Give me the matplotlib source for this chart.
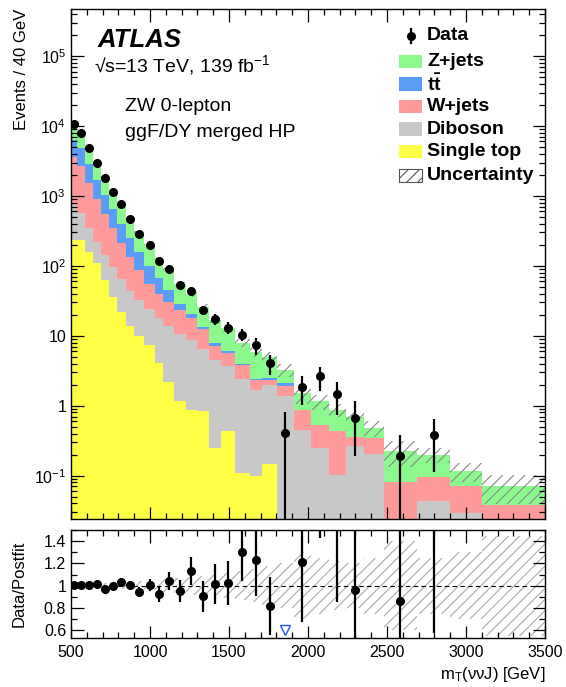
import numpy as np
import matplotlib
matplotlib.use('Agg')
import matplotlib.pyplot as plt
from matplotlib.patches import Rectangle
from matplotlib.lines import Line2D
from matplotlib.ticker import LogLocator, MultipleLocator, FuncFormatter, NullFormatter

plt.rcParams['font.family'] = ['Liberation Sans', 'DejaVu Sans']
plt.rcParams['mathtext.fontset'] = 'custom'
plt.rcParams['mathtext.rm'] = 'Liberation Sans'
plt.rcParams['mathtext.it'] = 'Liberation Sans:italic'
plt.rcParams['mathtext.bf'] = 'Liberation Sans:bold'
plt.rcParams['hatch.linewidth'] = 0.8

# ---------------- data ----------------
bin_edges = [500, 540, 590, 640, 690, 740, 790, 845, 900, 965, 1030, 1085, 1155, 1225,
             1300, 1375, 1450, 1535, 1630, 1710, 1805, 1910, 2020, 2130, 2240, 2355,
             2480, 2690, 2900, 3100, 3500]

data = [10570, 7870, 4900, 2990, 1825, 1152, 761, 464, 284, 199.5, 119, 91.5, 53, 44,
        23.5, 17.3, 13.1, 10.4, 7.27, 4.07, 0.41, 1.85, 2.62, 1.48, 0.674, np.nan,
        0.193, 0.385, np.nan, np.nan]

single_top = [235, 235, 160, 109, 63, 36, 22, 13.6, 9.8, 7.4, 4.1, 2.2, 1.15, 0.88,
              0.85, 0.25, 0.43, 0.11, 0.10, 0.147, 0, 0, 0, 0, 0, 0, 0, 0, 0, 0]

diboson = [515, 330, 192, 113, 81, 59, 42.5, 29.4, 22.2, 16.6, 13.9, 11.8, 9.55, 7.7,
           5.65, 4.25, 3.27, 2.29, 1.6, 1.85, 1.36, 0.454, 0.25, 0.103, 0.268, 0.207,
           0, 0.044, 0.029, 0]

wjets = [2790, 2085, 1198, 688, 416, 250, 145.5, 90, 54, 31, 21.3, 16.7, 12.8, 9.1,
         6.1, 2.7, 1.9, 1.45, 0.65, 0.35, 0.53, 0.41, 0.285, 0.327, 0.089, 0.138,
         0.08, 0.052, 0.043, 0.0376]

ttbar = [2860, 2140, 1330, 790, 473, 297, 185, 114, 70, 46, 27.7, 14.7, 5.2, 2.6,
         0.8, 0.7, 0.4, 0.15, 0.08, 0.15, 0.22, 0, 0, 0, 0, 0, 0, 0, 0, 0]

zjets = [4100, 3030, 1990, 1246, 848, 517, 340, 214, 144, 97, 62, 42.6, 26.8, 18.7,
         12.6, 9.1, 6.8, 4.0, 3.47, 2.5, 1.16, 0.66, 0.615, 0.447, 0.343, 0.135,
         0.143, 0.104, 0.043, 0.034]

rel_unc = [0.02, 0.02, 0.02, 0.02, 0.025, 0.025, 0.03, 0.03, 0.04, 0.04, 0.05, 0.06,
           0.07, 0.08, 0.09, 0.10, 0.11, 0.13, 0.15, 0.18, 0.20, 0.30, 0.25, 0.22,
           0.20, 0.25, 0.40, 0.25, 0.30, 0.45]

sample_names = ['Z+jets', r'$\mathbf{t\bar{t}}$', 'W+jets', 'Diboson', 'Single top']
sample_colors = ['#8cf98f', '#5a9cf8', '#ff9a9a', '#c8c8c8', '#ffff46']

x_ticks = [500, 1000, 1500, 2000, 2500, 3000, 3500]
ratio_ticks = [0.6, 0.8, 1.0, 1.2, 1.4]

# ---------------- derived ----------------
edges = np.array(bin_edges, dtype=float)
widths = np.diff(edges)
centers = 0.5 * (edges[:-1] + edges[1:])
d = np.array(data, dtype=float)
st = np.array(single_top); vv = np.array(diboson); wj = np.array(wjets)
tt = np.array(ttbar); zj = np.array(zjets)
c0 = st
c1 = c0 + vv
c2 = c1 + wj
c3 = c2 + tt
c4 = c3 + zj
total = c4
u = np.array(rel_unc)
# Poisson stat. error of the data, normalised to 40 GeV
scale = widths / 40.0
derr = np.sqrt(d / scale)

FLOOR = 1e-4

W, H = 566, 687
fig = plt.figure(figsize=(W / 100, H / 100), dpi=100)
L, R = 71, 545
ax = fig.add_axes([L / W, 1 - 519 / H, (R - L) / W, (519 - 9) / H])
axr = fig.add_axes([L / W, 1 - 638 / H, (R - L) / W, (638 - 530) / H], sharex=ax)

# stack
layers = [(c4, c3, sample_colors[0]), (c3, c2, sample_colors[1]), (c2, c1, sample_colors[2]),
          (c1, c0, sample_colors[3]), (c0, np.zeros_like(c0), sample_colors[4])]
for top, base, col in layers:
    ax.stairs(np.maximum(top, FLOOR), edges, baseline=np.maximum(base, FLOOR),
              fill=True, color=col, linewidth=0)

# uncertainty band
ax.stairs(total * (1 + u), edges, baseline=np.maximum(total * (1 - u), FLOOR), fill=True,
          facecolor='none', edgecolor='#888888', hatch='///', linewidth=0)

# data
ok = ~np.isnan(d)
lo = np.minimum(derr, d - FLOOR)
ax.errorbar(centers[ok], d[ok], yerr=[lo[ok], derr[ok]], fmt='o', color='black',
            ms=5.5, elinewidth=1.6, capsize=0)

ax.set_yscale('log')
ax.set_xlim(edges[0], edges[-1])
ax.set_ylim(0.024, 4.7e5)


def log_fmt(v, pos):
    e = int(round(np.log10(v)))
    if e == 0:
        return '1'
    if e == 1:
        return '10'
    return r'$\mathregular{10^{%d}}$' % e


ax.yaxis.set_major_locator(LogLocator(base=10, numticks=20))
ax.yaxis.set_minor_locator(LogLocator(base=10, subs=np.arange(2, 10), numticks=50))
ax.yaxis.set_major_formatter(FuncFormatter(log_fmt))
ax.yaxis.set_minor_formatter(NullFormatter())
ax.xaxis.set_major_locator(plt.FixedLocator(x_ticks))
ax.xaxis.set_minor_locator(MultipleLocator(100))
ax.tick_params(axis='x', labelbottom=False)
for a in (ax, axr):
    a.tick_params(which='both', direction='in', top=True, right=True, labelsize=11.5)
    a.tick_params(which='major', length=9, width=0.9)
    a.tick_params(which='minor', length=4.5, width=0.9)
    for s in a.spines.values():
        s.set_linewidth(1.0)

ax.set_ylabel('Events / 40 GeV', fontsize=12, loc='top')
ax.yaxis.set_label_coords(-0.088, 1.0)

# annotations
ax.text(0.055, 0.9255, 'ATLAS', transform=ax.transAxes, fontsize=18.5, fontweight='bold',
        fontstyle='italic', va='baseline')
ax.text(0.0485, 0.8765, '\u221as=13 TeV, 139 fb$^{-1}$', transform=ax.transAxes,
        fontsize=14, va='baseline')
ax.text(0.114, 0.80, 'ZW 0-lepton', transform=ax.transAxes, fontsize=14, va='baseline')
ax.text(0.114, 0.749, 'ggF/DY merged HP', transform=ax.transAxes, fontsize=14, va='baseline')

# legend (drawn by hand to follow ROOT layout)
def px2ax(x, y):
    return (x - L) / (R - L), (519 - y) / (519 - 9)

row_y = [36, 61.5, 84, 106.5, 129, 151.5, 175.5]
tx, _ = px2ax(427, 0)
mx, my = px2ax(411, row_y[0])
ax.add_line(Line2D([mx, mx], [px2ax(0, row_y[0] - 7)[1], px2ax(0, row_y[0] + 7)[1]],
                   transform=ax.transAxes, color='black', lw=1.6))
ax.plot([mx], [my], 'o', color='black', ms=5.5, transform=ax.transAxes)
ax.text(tx, my, 'Data', transform=ax.transAxes, fontsize=14, fontweight='bold', va='center')
px0, _ = px2ax(399, 0)
px1, _ = px2ax(422, 0)
for i, (name, col) in enumerate(zip(sample_names, sample_colors)):
    yc = row_y[i + 1]
    _, y0 = px2ax(0, yc + 6.7)
    _, y1 = px2ax(0, yc - 6.7)
    ax.add_patch(Rectangle((px0, y0), px1 - px0, y1 - y0, transform=ax.transAxes,
                           facecolor=col, edgecolor='none'))
    ax.text(tx, (y0 + y1) / 2, name, transform=ax.transAxes, fontsize=14,
            fontweight='bold', va='center')
yc = row_y[6]
_, y0 = px2ax(0, yc + 6.7)
_, y1 = px2ax(0, yc - 6.7)
ax.add_patch(Rectangle((px0, y0), px1 - px0, y1 - y0, transform=ax.transAxes,
                       facecolor='none', edgecolor='#555555', hatch='///', lw=0.8))
ax.text(tx, (y0 + y1) / 2, 'Uncertainty', transform=ax.transAxes, fontsize=14,
        fontweight='bold', va='center')

# ---------------- ratio ----------------
ratio = d / total
rerr_lo = lo / total
rerr_hi = derr / total
axr.stairs(1 + u, edges, baseline=1 - u, fill=True, facecolor='none',
           edgecolor='#aaaaaa', hatch='///', linewidth=0)
axr.axhline(1.0, color='black', ls='--', lw=0.8, dashes=(4, 3))
axr.errorbar(centers[ok], ratio[ok], yerr=[rerr_lo[ok], rerr_hi[ok]], fmt='o',
             color='black', ms=5.5, elinewidth=1.6, capsize=0)
r_lo_lim, r_hi_lim = 0.53, 1.5
low = ok & (ratio < r_lo_lim)
axr.plot(centers[low], np.full(low.sum(), 0.6), 'v', ms=7, mfc='none', mec='#2255ff', mew=1.0)
axr.set_ylim(r_lo_lim, r_hi_lim)
axr.yaxis.set_major_locator(plt.FixedLocator(ratio_ticks))
axr.yaxis.set_minor_locator(MultipleLocator(0.1))
axr.yaxis.set_major_formatter(FuncFormatter(lambda v, p: ('%g' % v)))
axr.set_ylabel('Data/Postfit', fontsize=12)
axr.yaxis.set_label_coords(-0.094, 0.5)
axr.set_xlabel('m$_\\mathregular{T}$(\u03bd\u03bdJ) [GeV]', fontsize=12, loc='right')
axr.tick_params(axis='x', pad=5)

fig.savefig('out.png', dpi=100)
